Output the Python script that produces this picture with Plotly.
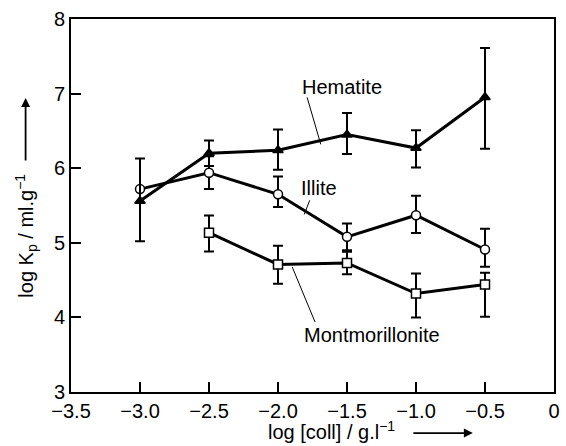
import plotly.graph_objects as go

# ---- data ----
x_hem = [-3.0, -2.5, -2.0, -1.5, -1.0, -0.5]
y_hem = [5.56, 6.20, 6.24, 6.45, 6.27, 6.95]
e_hem_plus = [0.57, 0.17, 0.28, 0.29, 0.24, 0.66]
e_hem_minus = [0.54, 0.17, 0.26, 0.26, 0.26, 0.69]

x_ill = [-3.0, -2.5, -2.0, -1.5, -1.0, -0.5]
y_ill = [5.72, 5.94, 5.65, 5.08, 5.37, 4.91]
e_ill_plus = [0.0, 0.22, 0.24, 0.18, 0.26, 0.28]
e_ill_minus = [0.0, 0.22, 0.17, 0.18, 0.24, 0.23]

x_mon = [-2.5, -2.0, -1.5, -1.0, -0.5]
y_mon = [5.135, 4.71, 4.73, 4.32, 4.44]
e_mon_plus = [0.23, 0.25, 0.15, 0.27, 0.16]
e_mon_minus = [0.25, 0.26, 0.15, 0.32, 0.43]

x_tickvals = [-3.5, -3.0, -2.5, -2.0, -1.5, -1.0, -0.5, 0]
x_ticktext = ["\u22123.5", "\u22123.0", "\u22122.5", "\u22122.0", "\u22121.5", "\u22121.0", "\u22120.5", "0"]
y_tickvals = [3, 4, 5, 6, 7, 8]

# label annotations (text, x, y) and leader lines (x0, y0, x1, y1)
labels = [("Hematite", -1.535, 7.09), ("Illite", -1.70, 5.735), ("Montmorillonite", -1.32, 3.764)]
leaders = [(-1.789, 6.95, -1.69, 6.32), (-1.77, 5.57, -1.81, 5.38), (-1.897, 4.676, -1.732, 3.94)]

FONT = "Liberation Sans, Arial, Helvetica, sans-serif"
FS = 20

fig = go.Figure()

def add_series(x, y, ep, em, symbol, fill, size):
    fig.add_trace(go.Scatter(
        x=x, y=y, mode="lines+markers",
        line=dict(color="black", width=3),
        marker=dict(symbol=symbol, size=size, color=fill, line=dict(color="black", width=1.5)),
        error_y=dict(type="data", symmetric=False, array=ep, arrayminus=em,
                     color="black", thickness=2, width=5),
        showlegend=False, cliponaxis=False))

add_series(x_mon, y_mon, e_mon_plus, e_mon_minus, "square", "white", 9)
add_series(x_ill, y_ill, e_ill_plus, e_ill_minus, "circle", "white", 9)
add_series(x_hem, y_hem, e_hem_plus, e_hem_minus, "triangle-up", "black", 9)

for (x0, y0, x1, y1) in leaders:
    fig.add_shape(type="line", x0=x0, y0=y0, x1=x1, y1=y1, xref="x", yref="y",
                  line=dict(color="black", width=1))

for (t, x, y) in labels:
    fig.add_annotation(text=t, x=x, y=y, xref="x", yref="y", showarrow=False,
                       xanchor="center", yanchor="middle",
                       font=dict(family=FONT, size=FS, color="black"))

# axis titles with arrows
fig.add_annotation(text="log K<sub>p</sub> / ml.g<sup>\u22121</sup>", x=-0.094, y=0.418,
                   xref="paper", yref="paper", textangle=-90, showarrow=False,
                   xanchor="center", yanchor="middle",
                   font=dict(family=FONT, size=FS, color="black"))
fig.add_annotation(text="", x=-0.094, y=0.788, xref="paper", yref="paper",
                   showarrow=True, ax=0, ay=64, arrowhead=2, arrowsize=1, arrowwidth=1.8,
                   arrowcolor="black")
fig.add_annotation(text="log [coll] / g.l<sup>\u22121</sup>", x=0.54, y=-0.104,
                   xref="paper", yref="paper", showarrow=False,
                   xanchor="center", yanchor="middle",
                   font=dict(family=FONT, size=FS, color="black"))
fig.add_annotation(text="", x=0.832, y=-0.11, xref="paper", yref="paper",
                   showarrow=True, ax=-61, ay=0, arrowhead=2, arrowsize=1, arrowwidth=1.8,
                   arrowcolor="black")

axis_common = dict(showline=True, linecolor="black", linewidth=2, mirror=True,
                   ticks="inside", ticklen=10, tickwidth=1.5, tickcolor="black",
                   showgrid=False, zeroline=False,
                   tickfont=dict(family=FONT, size=FS, color="black"))

fig.update_xaxes(range=[-3.5, 0], tickvals=x_tickvals, ticktext=x_ticktext, **axis_common)
fig.update_yaxes(range=[3, 8], tickvals=y_tickvals, **axis_common)

fig.update_layout(width=566, height=446, margin=dict(l=71, r=6, t=19, b=54),
                  paper_bgcolor="white", plot_bgcolor="white",
                  font=dict(family=FONT, size=FS, color="black"))

fig.write_html("out.html")
